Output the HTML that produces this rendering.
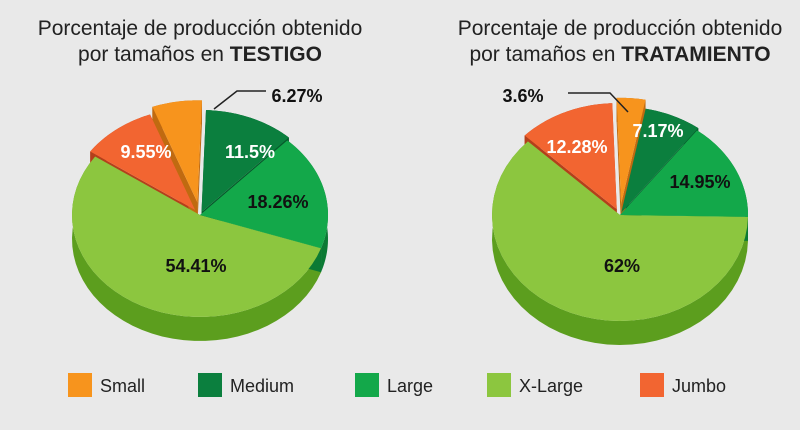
<!DOCTYPE html>
<html><head><meta charset="utf-8"><style>
body{margin:0;background:#e9e9e9;}
svg{display:block;font-family:"Liberation Sans",sans-serif;}
</style></head><body>
<svg id="s" width="800" height="430" viewBox="0 0 800 430">
<rect x="0" y="0" width="800" height="430" fill="#e9e9e9"/>
<g font-size="21" fill="#222" text-anchor="middle">
<text x="200" y="35">Porcentaje de producción obtenido</text>
<text x="200" y="61">por tamaños en <tspan font-weight="bold">TESTIGO</tspan></text>
<text x="620" y="35">Porcentaje de producción obtenido</text>
<text x="620" y="61">por tamaños en <tspan font-weight="bold">TRATAMIENTO</tspan></text>
</g>
<g id="p1"></g><g id="p2"></g>
<g font-size="18" font-weight="bold" text-anchor="middle">
<text x="297" y="102" fill="#111">6.27%</text>
<text x="146" y="158" fill="#fff">9.55%</text>
<text x="250" y="158" fill="#fff">11.5%</text>
<text x="278" y="208" fill="#111">18.26%</text>
<text x="196" y="272" fill="#111">54.41%</text>
<text x="523" y="102" fill="#111">3.6%</text>
<text x="577" y="153" fill="#fff">12.28%</text>
<text x="658" y="137" fill="#fff">7.17%</text>
<text x="700" y="188" fill="#111">14.95%</text>
<text x="622" y="272" fill="#111">62%</text>
</g>
<polyline points="266,91 237,91 214,109" fill="none" stroke="#222" stroke-width="1.5"/>
<polyline points="568,93 610,93 628,112" fill="none" stroke="#222" stroke-width="1.5"/>
<g font-size="18" fill="#222">
<rect x="68" y="373" width="24" height="24" fill="#f7941d"/><text x="100" y="392">Small</text>
<rect x="198" y="373" width="24" height="24" fill="#0b7f3e"/><text x="230" y="392">Medium</text>
<rect x="355" y="373" width="24" height="24" fill="#13a84a"/><text x="387" y="392">Large</text>
<rect x="487" y="373" width="24" height="24" fill="#8cc63f"/><text x="519" y="392">X-Large</text>
<rect x="640" y="373" width="24" height="24" fill="#f26531"/><text x="672" y="392">Jumbo</text>
</g>
</svg>
<script>
var C={s:["#f7941d","#c06a10"],m:["#0b7f3e","#065a2b"],l:["#13a84a","#0b7a34"],x:["#8cc63f","#5c9e1e"],j:["#f26531","#b3401b"]};
function pie(g,cx,cy,rx,ry,d,sl){
 var el=document.getElementById(g),ns="http://www.w3.org/2000/svg",walls="",tops="";
 function P(a,ox,oy,dy){var r=a*Math.PI/180;return [cx+ox+rx*Math.sin(r),cy+oy+dy-ry*Math.cos(r)];}
 sl.forEach(function(s){
  var a0=s[1],a1=s[2],c=C[s[0]],mid=(a0+a1)/2*Math.PI/180,ox=s[3]*Math.sin(mid),oy=-s[3]*Math.cos(mid)*0.8;
  var top=[],bot=[];
  for(var a=a0;a<=a1+0.001;a+=(a1-a0)/40){top.push(P(a,ox,oy,0));bot.push(P(a,ox,oy,d));}
  var c0=[cx+ox,cy+oy];
  // radial walls
  [top[0],top[top.length-1]].forEach(function(p){
   walls+='<path d="M'+c0+' L'+p+' L'+[p[0],p[1]+d]+' L'+[c0[0],c0[1]+d]+'Z" fill="'+c[1]+'"/>';
  });
  // outer wall
  var w="M"+top.join(" L")+" L"+bot.reverse().join(" L")+"Z";
  walls+='<path d="'+w+'" fill="'+c[1]+'"/>';
  tops+='<path d="M'+c0+' L'+top.join(" L")+'Z" fill="'+c[0]+'"/>';
 });
 el.innerHTML=walls+tops;
}
pie("p1",200,215,128,102,24,[["x",109,305,0],["l",43,109,0],["m",2,43,4],["j",305,339.4,8],["s",339.4,362,16]]);
pie("p2",620,215,128,106,24,[["x",91,314,0],["l",37,91,0],["m",11,37,3],["j",314,358,8],["s",358,371,14]]);
</script>
</body></html>
